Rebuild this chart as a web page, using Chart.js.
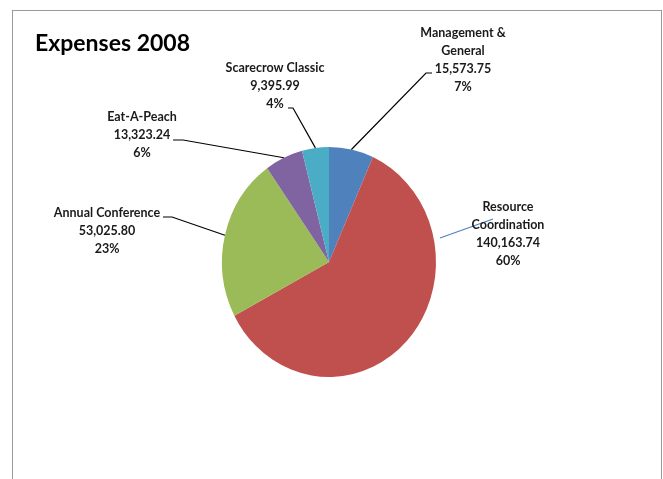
<!DOCTYPE html>
<html>
<head>
<meta charset="utf-8">
<script src="https://cdn.jsdelivr.net/npm/chart.js@4"></script>
<style>
  html, body { margin: 0; padding: 0; background: #fff; }
  #marco {
    position: absolute; left: 12px; top: 10px; width: 648px; height: 480px;
    border: 1px solid #999; border-bottom: none;
  }
  #grafico { position: absolute; left: 0; top: 0; }
</style>
</head>
<body>
<div id="marco"></div>
<canvas id="grafico" width="663" height="479"></canvas>
<script>
// datos del grafico
const categorias = ["Management &\nGeneral", "Resource\nCoordination", "Annual Conference", "Eat-A-Peach", "Scarecrow Classic"];
const montos = [15573.75, 140163.74, 53025.80, 13323.24, 9395.99];
const porcentajes = ["7%", "60%", "23%", "6%", "4%"];
const colores = ["#4F81BD", "#C0504D", "#9BBB59", "#8064A2", "#4BACC6"];

/*
 * Ubicacion de las etiquetas respecto al centro del pie
 * tx = centro del texto, ty = primera linea, codo = donde la linea toca la etiqueta
 */
const etiquetas = [
  { tx: 134, ty: -229, codo: [97, -189], cola: 6 },
  { tx: 179, ty: -55, codo: [164, -43], cola: 0, desde: [111, -24], color: "#4F81BD" },
  { tx: -222, ty: -49, codo: [-157, -45], cola: -9 },
  { tx: -187, ty: -145, codo: [-146, -122], cola: -10 },
  { tx: -54, ty: -194, codo: [-36, -154], cola: -5 },
];

const FUENTE = 'Lato, "DejaVu Sans Condensed", sans-serif';
const ESCALA_Y = 1.075; // el pie de excel sale un poco ovalado

function formatoNumero(valor) {
  return valor.toLocaleString("en-US", { minimumFractionDigits: 2, maximumFractionDigits: 2 });
}

const pluginEtiquetas = {
  id: "etiquetas",
  beforeDatasetsDraw(chart) {
    const arco = chart.getDatasetMeta(0).data[0];
    const ctx = chart.ctx;
    ctx.save();
    ctx.translate(arco.x, arco.y);
    ctx.scale(1, ESCALA_Y);
    ctx.translate(-arco.x, -arco.y);
  },
  afterDatasetsDraw(chart) {
    const ctx = chart.ctx;
    ctx.restore();
    const arcos = chart.getDatasetMeta(0).data;
    const cx = arcos[0].x;
    const cy = arcos[0].y;

    // titulo
    ctx.save();
    ctx.fillStyle = "#000";
    ctx.font = "bold 23px " + FUENTE;
    ctx.textAlign = "left";
    ctx.textBaseline = "alphabetic";
    ctx.fillText("Expenses 2008", 35, 51);
    ctx.restore();

    arcos.forEach((arco, i) => {
      const et = etiquetas[i];
      const medio = (arco.startAngle + arco.endAngle) / 2;
      let x0 = cx + arco.outerRadius * Math.cos(medio);
      let y0 = cy + arco.outerRadius * Math.sin(medio) * ESCALA_Y;
      if (et.desde) {
        x0 = cx + et.desde[0];
        y0 = cy + et.desde[1];
      }
      const xc = cx + et.codo[0];
      const yc = cy + et.codo[1];

      ctx.save();
      ctx.strokeStyle = et.color || "#000";
      ctx.lineWidth = 1.2;
      ctx.beginPath();
      ctx.moveTo(x0, y0);
      ctx.lineTo(xc, yc);
      if (et.cola) ctx.lineTo(xc + et.cola, yc);
      ctx.stroke();
      ctx.restore();

      const lineas = categorias[i].split("\n");
      lineas.push(formatoNumero(montos[i]));
      lineas.push(porcentajes[i]);
      ctx.save();
      ctx.fillStyle = "#1a1a1a";
      ctx.font = "bold 12.5px " + FUENTE;
      ctx.textAlign = "center";
      ctx.textBaseline = "middle";
      lineas.forEach((txt, j) => {
        ctx.fillText(txt, cx + et.tx, cy + et.ty + j * 18);
      });
      ctx.restore();
    });
  },
};

new Chart(document.getElementById("grafico"), {
  type: "pie",
  data: {
    labels: categorias,
    datasets: [
      {
        data: montos,
        backgroundColor: colores,
        borderWidth: 0,
      },
    ],
  },
  options: {
    responsive: false,
    animation: false,
    layout: {
      padding: { left: 222, right: 227, top: 147, bottom: 102 },
    },
    plugins: {
      legend: { display: false },
      tooltip: { enabled: false },
      title: { display: false },
    },
  },
  plugins: [pluginEtiquetas],
});
</script>
</body>
</html>
